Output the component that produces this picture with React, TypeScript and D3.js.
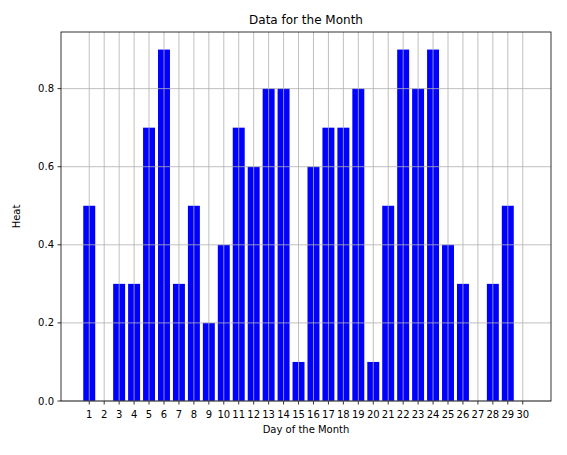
import React from 'react'
import * as d3 from 'd3'

const days = d3.range(1, 31)
const heat = [0.5, 0, 0.3, 0.3, 0.7, 0.9, 0.3, 0.5, 0.2, 0.4, 0.7, 0.6, 0.8, 0.8, 0.1, 0.6, 0.7, 0.7, 0.8, 0.1, 0.5, 0.9, 0.8, 0.9, 0.4, 0.3, 0, 0.3, 0.5, 0]
const yTicks = [0, 0.2, 0.4, 0.6, 0.8]

const W = 567
const H = 455
const m = { left: 61, right: 16, top: 32, bottom: 54 }

export default function App() {
  const x = d3.scaleLinear().domain([-0.89, 31.89]).range([m.left, W - m.right])
  const y = d3.scaleLinear().domain([0, 0.945]).range([H - m.bottom, m.top])
  const font = 'DejaVu Sans, sans-serif'
  const y0 = H - m.bottom
  return (
    <svg width={W} height={H} style={{ position: 'absolute', left: 0, top: 0 }} fontFamily={font}>
      <rect width={W} height={H} fill="#fff" />
      {days.map((d, i) => (
        <rect key={d} x={x(d - 0.4)} width={x(d + 0.4) - x(d - 0.4)} y={y(heat[i])} height={y0 - y(heat[i])} fill="#0000ff" />
      ))}
      {days.map(d => (
        <g key={d}>
          <line x1={x(d)} x2={x(d)} y1={m.top} y2={y0} stroke="#b0b0b0" strokeWidth={0.8} />
          <line x1={x(d)} x2={x(d)} y1={y0} y2={y0 + 3.5} stroke="#000" strokeWidth={0.8} />
          <text x={x(d)} y={y0 + 17} textAnchor="middle" fontSize={10}>{d}</text>
        </g>
      ))}
      {yTicks.map(t => (
        <g key={t}>
          <line x1={m.left} x2={W - m.right} y1={y(t)} y2={y(t)} stroke="#b0b0b0" strokeWidth={0.8} />
          <line x1={m.left - 3.5} x2={m.left} y1={y(t)} y2={y(t)} stroke="#000" strokeWidth={0.8} />
          <text x={m.left - 7} y={y(t) + 3.5} textAnchor="end" fontSize={10}>{t.toFixed(1)}</text>
        </g>
      ))}
      <rect x={m.left} y={m.top} width={W - m.left - m.right} height={y0 - m.top} fill="none" stroke="#000" strokeWidth={0.8} />
      <text x={(m.left + W - m.right) / 2} y={y0 + 32} textAnchor="middle" fontSize={10}>Day of the Month</text>
      <text transform={`translate(20,${(m.top + y0) / 2}) rotate(-90)`} textAnchor="middle" fontSize={10}>Heat</text>
      <text x={(m.left + W - m.right) / 2} y={m.top - 8} textAnchor="middle" fontSize={12}>Data for the Month</text>
    </svg>
  )
}
